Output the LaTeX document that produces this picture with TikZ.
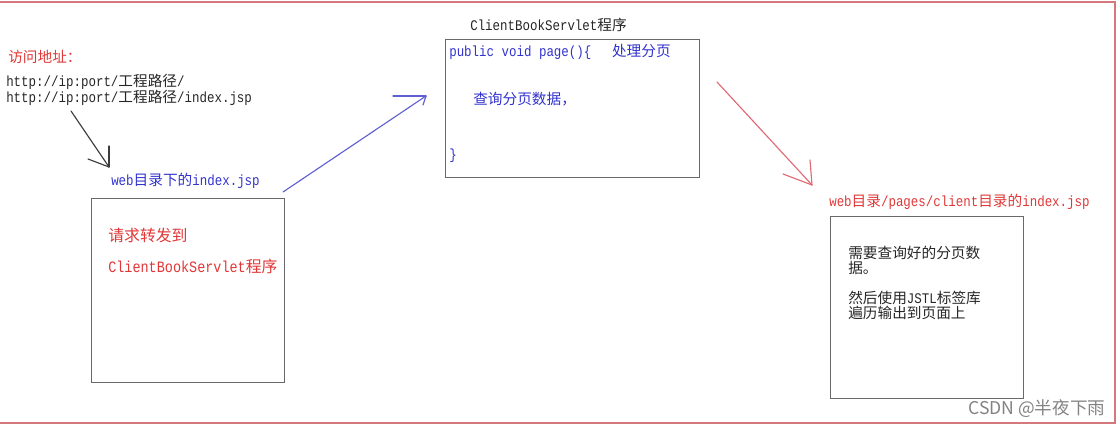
\documentclass[tikz,border=0pt]{standalone}
\usepackage{fontspec}
\setmonofont[FakeStretch=0.85]{Liberation Mono}
\newfontfamily\cjk{Noto Sans CJK SC}
\newfontfamily\wmfont{Noto Sans CJK SC}
\newcommand{\zh}[1]{{\cjk #1}}
\definecolor{txtred}{RGB}{225,55,55}
\definecolor{txtblue}{RGB}{50,50,205}
\definecolor{boxgray}{RGB}{105,105,105}
\definecolor{framered}{RGB}{212,120,125}
\definecolor{arrblue}{RGB}{95,95,210}
\definecolor{arrred}{RGB}{225,105,115}
\definecolor{arrblack}{RGB}{60,60,60}
\definecolor{wmgray}{RGB}{130,130,130}
\tikzset{
  txt/.style={inner sep=0pt,anchor=west,align=left,
    font=\fontsize{11}{11.25}\selectfont\ttfamily},
  bigtxt/.style={txt,font=\fontsize{11.9}{12}\selectfont\ttfamily},
  boxnode/.style={draw=boxgray,line width=1.1pt,anchor=north west,inner sep=0pt},
  conn/.style={line width=0.85pt,line cap=round}
}
\begin{document}
\begin{tikzpicture}[x=0.75pt,y=-0.75pt]
\useasboundingbox (0,0) rectangle (1120,427);
% outer frame
\draw[framered,line width=1.6pt] (0,2) -- (1115,2) -- (1115,423) -- (0,423);

% boxes
\node[boxnode,minimum width=144.75pt,minimum height=138pt] (b1) at (91,198) {};
\node[boxnode,minimum width=190.5pt,minimum height=103.5pt] (b2) at (445,39) {};
\node[boxnode,minimum width=144.75pt,minimum height=136.5pt] (b3) at (830,216) {};

% left texts
\node[txt,text=txtred] (addrlabel) at (8,57) {\zh{访问地址：}};
\node[txt,text=black!85] (urls) at (6,90) {http://ip:port/\zh{工程路径}/\\http://ip:port/\zh{工程路径}/index.jsp};
\node[txt,text=txtblue] (weblabel) at (111,181) {web\zh{目录下的}index.jsp};
\node[bigtxt,text=txtred] (fwd1) at (108,235) {\zh{请求转发到}};
\node[bigtxt,text=txtred] (fwd2) at (108,266) {ClientBookServlet\zh{程序}};

% middle texts
\node[txt,text=black!85] (servlettitle) at (470,25) {ClientBookServlet\zh{程序}};
\node[txt,text=txtblue] (code1) at (449,52) {public void page()\{\hspace{15.5pt}\zh{处理分页}};
\node[txt,text=txtblue] (code2) at (473,99) {\zh{查询分页数据，}};
\node[txt,text=txtblue] (code3) at (449,156) {\}};

% right texts
\node[txt,text=txtred] (pagelabel) at (829,202) {web\zh{目录}/pages/client\zh{目录的}index.jsp};
\node[txt,text=black!85] (need) at (848,260.5) {\zh{需要查询好的分页数}\\\zh{据。}};
\node[txt,text=black!85] (jstl) at (848,305.5) {\zh{然后使用}JSTL\zh{标签库}\\\zh{遍历输出到页面上}};

% watermark
\node[inner sep=0pt,anchor=west,text=wmgray,font=\wmfont\fontsize{13.2}{15}\selectfont] (wm) at (968,409) {CSDN @半夜下雨};

% arrows (hand-drawn style heads)
\coordinate (a1s) at (71,111);
\coordinate (a1e) at (109,167);
\coordinate (a2s) at (283,192);
\coordinate (a2e) at (426,96);
\coordinate (a3s) at (717,82);
\coordinate (a3e) at (812,185);
\draw[conn,arrblack] (a1s) -- (a1e);
\draw[conn,arrblack] (a1e) -- ++(0,-21);
\draw[conn,arrblack] (a1e) -- ++(-21,-8);
\draw[conn,arrblue] (a2s) -- (a2e);
\draw[conn,arrblue] (a2e) -- ++(-33,0);
\draw[conn,arrblue] (a2e) -- ++(-3,9);
\draw[conn,arrred] (a3s) -- (a3e);
\draw[conn,arrred] (a3e) -- ++(-2,-25);
\draw[conn,arrred] (a3e) -- ++(-29,-11);
\end{tikzpicture}
\end{document}
